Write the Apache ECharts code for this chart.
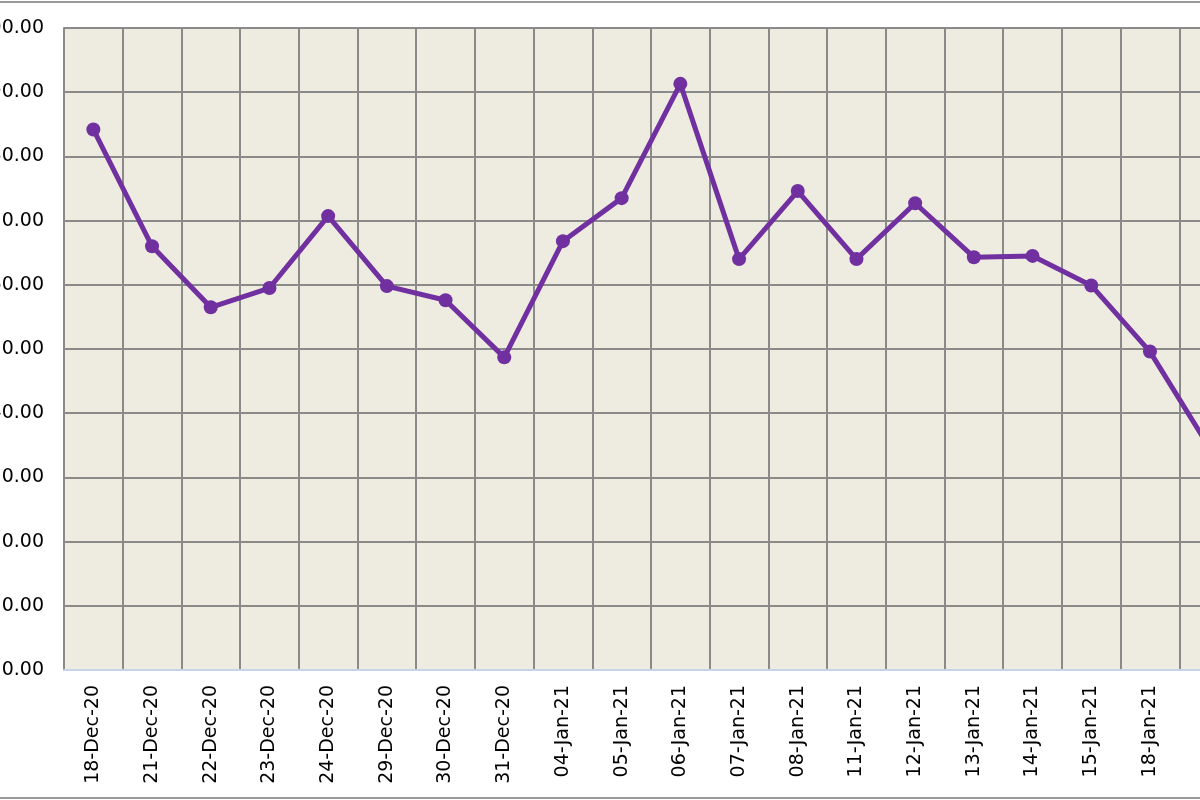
<!DOCTYPE html>
<html>
<head>
<meta charset="utf-8">
<script src="https://cdn.jsdelivr.net/npm/echarts@6/dist/echarts.min.js"></script>
<style>
  html, body { margin: 0; padding: 0; background: #fff; }
  #main { width: 1200px; height: 800px; }
</style>
</head>
<body>
<div id="main"></div>
<script>
// categories along the bottom (last one runs off the right edge)
const dates = ['18-Dec-20', '21-Dec-20', '22-Dec-20', '23-Dec-20', '24-Dec-20', '29-Dec-20',
  '30-Dec-20', '31-Dec-20', '04-Jan-21', '05-Jan-21', '06-Jan-21', '07-Jan-21', '08-Jan-21',
  '11-Jan-21', '12-Jan-21', '13-Jan-21', '14-Jan-21', '15-Jan-21', '18-Jan-21', '19-Jan-21'];

// values
const values = [84.2, 66.0, 56.5, 59.5, 70.7, 59.8, 57.6, 48.7, 66.8, 73.5, 91.3,
  64.0, 74.6, 64.0, 72.7, 64.3, 64.5, 59.9, 49.6, 34.8];

const yMin = 0;
const yMax = 100;
const yStep = 10;

const chart = echarts.init(document.getElementById('main'));

const option = {
  animation: false,
  backgroundColor: '#ffffff',
  grid: {
    left: 64,
    top: 28,
    width: 1174,
    height: 642,
    containLabel: false,
    outerBoundsMode: 'none',
    show: true,
    backgroundColor: '#EEEBE1',
    borderWidth: 0
  },
  xAxis: {
    type: 'category',
    data: dates,
    boundaryGap: true,
    axisLine: { show: true, lineStyle: { color: '#c6d4e8', width: 2 } },
    axisTick: { show: false },
    axisLabel: {
      interval: 0,
      rotate: 90,
      margin: 15,
      color: '#000',
      fontFamily: 'DejaVu Sans',
      fontSize: 19
    },
    splitLine: { show: true, interval: 0, lineStyle: { color: '#8a8a8a', width: 2 } }
  },
  yAxis: {
    type: 'value',
    min: yMin,
    max: yMax,
    interval: yStep,
    axisLine: { show: true, lineStyle: { color: '#8a8a8a', width: 2 } },
    axisTick: { show: false },
    axisLabel: {
      margin: 20,
      color: '#000',
      fontFamily: 'DejaVu Sans',
      fontSize: 19,
      formatter: v => v.toFixed(2)
    },
    splitLine: { show: true, lineStyle: { color: '#8a8a8a', width: 2 } }
  },
  graphic: [
    { type: 'line', shape: { x1: 0, y1: 2, x2: 1200, y2: 2 }, style: { stroke: '#9a9a9a', lineWidth: 2 } },
    { type: 'line', shape: { x1: 0, y1: 798, x2: 1200, y2: 798 }, style: { stroke: '#9a9a9a', lineWidth: 2 } }
  ],
  series: [
    {
      type: 'line',
      data: values,
      symbol: 'circle',
      symbolSize: 14,
      lineStyle: { color: '#7030A0', width: 5 },
      itemStyle: { color: '#7030A0' }
    }
  ]
};

chart.setOption(option);
</script>
</body>
</html>
